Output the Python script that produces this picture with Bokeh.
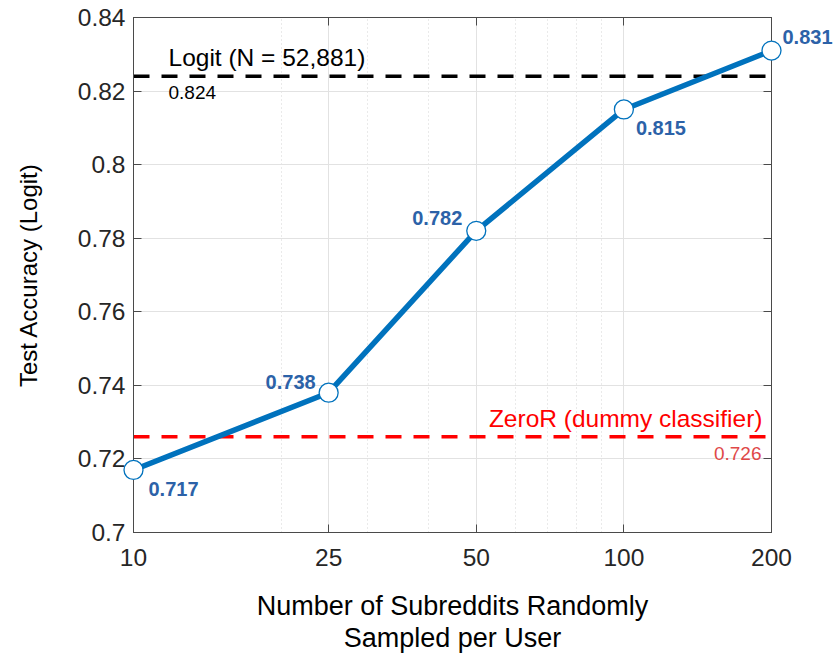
from bokeh.plotting import figure
from bokeh.models import FixedTicker, LinearAxis, LogAxis, Label, Span, Range1d, ColumnDataSource
from bokeh.core.properties import value
from bokeh.embed import file_html
from bokeh.resources import INLINE

# ---- data ----
subreddits = [10, 25, 50, 100, 200]
accuracy = [0.717, 0.738, 0.782, 0.815, 0.831]
point_labels = ["0.717", "0.738", "0.782", "0.815", "0.831"]

x_ticks = [10, 25, 50, 100, 200]
x_tick_labels = ["10", "25", "50", "100", "200"]
x_minor_ticks = [20, 30, 40, 60, 70, 80, 90]
y_ticks = [0.70, 0.72, 0.74, 0.76, 0.78, 0.80, 0.82, 0.84]
y_tick_labels = ["0.7", "0.72", "0.74", "0.76", "0.78", "0.8", "0.82", "0.84"]

logit_acc = 0.824
logit_name = "Logit (N = 52,881)"
logit_value_text = "0.824"
zeror_acc = 0.726
zeror_name = "ZeroR (dummy classifier)"
zeror_value_text = "0.726"

x_title = "Number of Subreddits Randomly\nSampled per User"
y_title = "Test Accuracy (Logit)"

# ---- styles ----
FONT = "Liberation Sans"
BLUE = "#0072BD"
LABEL_BLUE = "#2c62a8"
AXIS_COLOR = "#4a4a4a"
TICK_TEXT = "#262626"

# label placement, in screen px (dx right, dy down) and alignment
label_dx = [15, -13, -14, 12, 11]
label_dy = [19, -11, -13, 19, -14]
label_align = ["left", "right", "right", "left", "left"]

p = figure(width=834, height=657, x_axis_type="log",
           x_range=Range1d(x_ticks[0], x_ticks[-1]),
           y_range=Range1d(y_ticks[0], y_ticks[-1]),
           output_backend="svg", toolbar_location=None,
           min_border_left=133, min_border_right=63,
           min_border_top=17, min_border_bottom=125)

p.background_fill_color = "white"
p.border_fill_color = "white"
p.outline_line_color = AXIS_COLOR
p.outline_line_width = 1

# x axis
xa = p.xaxis[0]
xa.ticker = FixedTicker(ticks=x_ticks, minor_ticks=x_minor_ticks)
xa.major_label_overrides = dict(zip(x_ticks, x_tick_labels))
# y axis
ya = p.yaxis[0]
ya.ticker = FixedTicker(ticks=y_ticks)
ya.major_label_overrides = dict(zip(y_ticks, y_tick_labels))

for ax in (xa, ya):
    ax.axis_line_color = AXIS_COLOR
    ax.major_tick_line_color = AXIS_COLOR
    ax.major_tick_in = 8
    ax.major_tick_out = 0
    ax.minor_tick_line_color = None
    ax.major_label_text_font = FONT
    ax.major_label_text_font_size = "24.5px"
    ax.major_label_text_color = TICK_TEXT
    ax.axis_label_text_font = FONT
    ax.axis_label_text_font_style = "normal"
    ax.axis_label_text_color = "black"

xa.major_label_standoff = 12
ya.major_label_standoff = 8
xa.axis_label = x_title
xa.axis_label_text_font_size = "27px"
xa.axis_label_text_line_height = 1.08
xa.axis_label_standoff = 22
ya.axis_label = y_title
ya.axis_label_text_font_size = "24px"
ya.axis_label_standoff = 33

# box ticks on top / right
top = LogAxis(ticker=FixedTicker(ticks=x_ticks),
              major_label_overrides={t: "" for t in x_ticks})
right = LinearAxis(ticker=FixedTicker(ticks=y_ticks),
                   major_label_overrides={t: "" for t in y_ticks})
for ax in (top, right):
    ax.axis_line_color = AXIS_COLOR
    ax.major_tick_line_color = AXIS_COLOR
    ax.major_tick_in = 8
    ax.major_tick_out = 0
    ax.minor_tick_line_color = None
    ax.major_label_standoff = 0
p.add_layout(top, "above")
p.add_layout(right, "right")

# grids
p.xgrid.grid_line_color = "#e2e2e2"
p.xgrid.minor_grid_line_color = "#d4d4d4"
p.xgrid.minor_grid_line_dash = "1 3"
p.ygrid.grid_line_color = "#e2e2e2"

# reference lines
p.add_layout(Span(location=logit_acc, dimension="width", line_color="black",
                  line_width=3.5, line_dash="16 12", level="underlay"))
p.add_layout(Span(location=zeror_acc, dimension="width", line_color="#ff0000",
                  line_width=3.5, line_dash="16 12", level="underlay"))

# main series
src = ColumnDataSource(dict(x=subreddits, y=accuracy, label=point_labels,
                            dx=label_dx, dy=label_dy, align=label_align))
p.line("x", "y", source=src, line_width=5.5, line_color=BLUE)
p.scatter("x", "y", source=src, size=19, fill_color="white",
          line_color=BLUE, line_width=1.3, level="overlay")
p.text("x", "y", text="label", source=src, x_offset="dx", y_offset="dy",
       text_align="align", text_baseline="middle",
       text_font=value(FONT), text_font_style="bold",
       text_font_size="20px", text_color=LABEL_BLUE, level="overlay")

# reference line annotations
p.add_layout(Label(x=x_ticks[0], y=logit_acc, text=logit_name, x_offset=35, y_offset=18.5,
                   text_align="left", text_baseline="alphabetic",
                   text_font=FONT, text_font_size="24.5px", text_color="black"))
p.add_layout(Label(x=x_ticks[0], y=logit_acc, text=logit_value_text, x_offset=35, y_offset=-16.5,
                   text_align="left", text_baseline="alphabetic",
                   text_font=FONT, text_font_size="19px", text_color="black"))
p.add_layout(Label(x=x_ticks[-1], y=zeror_acc, text=zeror_name, x_offset=-9, y_offset=18,
                   text_align="right", text_baseline="alphabetic",
                   text_font=FONT, text_font_size="24.5px", text_color="#ff0000"))
p.add_layout(Label(x=x_ticks[-1], y=zeror_acc, text=zeror_value_text, x_offset=-10, y_offset=-17,
                   text_align="right", text_baseline="alphabetic",
                   text_font=FONT, text_font_size="19px", text_color="#e04848"))

open("out.html", "w").write(file_html(p, INLINE))
